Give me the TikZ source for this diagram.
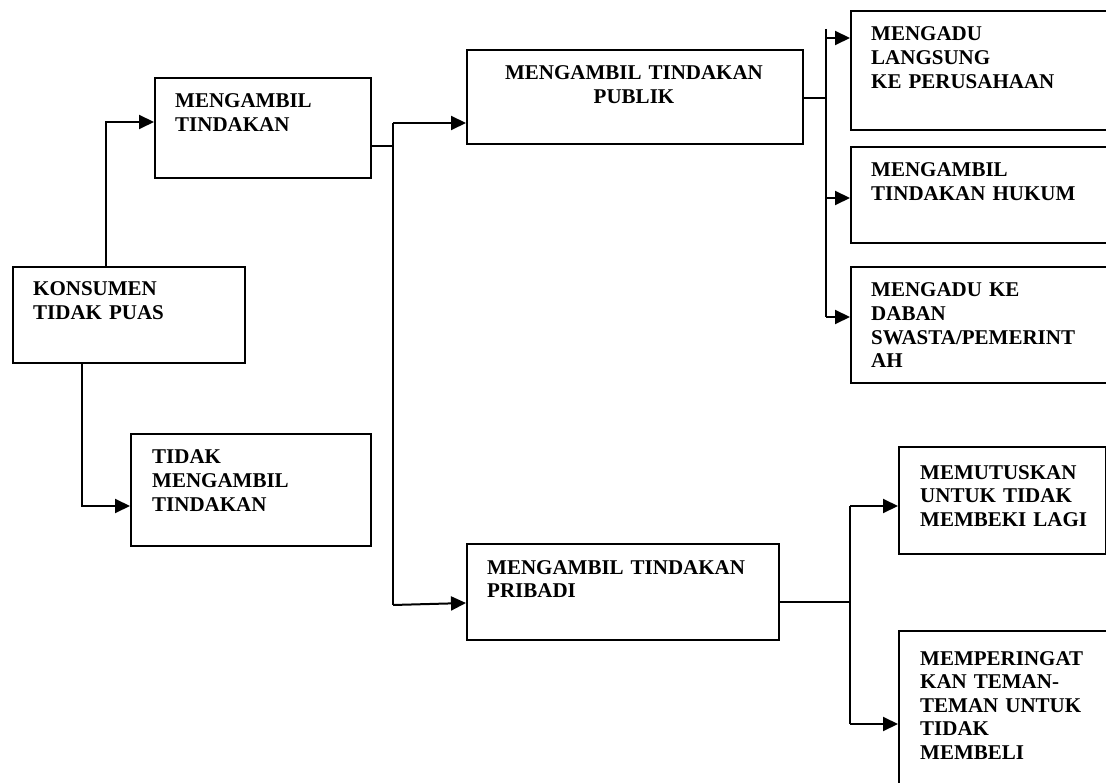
\documentclass[tikz,border=0pt]{standalone}
\usepackage{fontspec}
\setmainfont{Liberation Serif}
\usetikzlibrary{arrows.meta}
\tikzset{
  box/.style={draw, line width=2pt, rectangle, inner sep=0pt, anchor=north west},
  txt/.style={inner sep=0pt, text width=300pt, align=left, anchor=base west,
    font=\bfseries\fontsize{21}{23.6}\selectfont},
  ctxt/.style={inner sep=0pt, text width=336pt, align=center, anchor=base,
    font=\bfseries\fontsize{21}{23.6}\selectfont},
  line/.style={line width=2pt},
  arr/.style={line width=2pt, -{Triangle[length=15pt,width=14pt]}}
}
\begin{document}
\begin{tikzpicture}[x=1pt,y=-1pt]
\clip (0,0) rectangle (1106,783);
\fill[white] (0,0) rectangle (1106,783);
% boxes
\node[box, minimum width=232pt, minimum height=96pt] (k) at (12,266) {};
\node[box, minimum width=216pt, minimum height=100pt] (mt) at (154,77) {};
\node[box, minimum width=240pt, minimum height=112pt] (tt) at (130,433) {};
\node[box, minimum width=336pt, minimum height=94pt] (pub) at (466,49) {};
\node[box, minimum width=312pt, minimum height=96pt] (pri) at (466,543) {};
\node[box, minimum width=300pt, minimum height=119pt] (ml) at (850,10) {};
\node[box, minimum width=300pt, minimum height=96pt] (mh) at (850,146) {};
\node[box, minimum width=300pt, minimum height=116pt] (md) at (850,266) {};
\node[box, minimum width=207pt, minimum height=107pt] (mm) at (898,446) {};
\node[box, minimum width=250pt, minimum height=200pt] (mp) at (898,630) {};
% texts
\node[txt] (kt) at (33,296) {KONSUMEN\\TIDAK PUAS};
\node[txt] (mtt) at (175,108) {MENGAMBIL\\TINDAKAN};
\node[txt] (ttt) at (152,464) {TIDAK\\MENGAMBIL\\TINDAKAN};
\node[ctxt] (pubt) at (634,80) {MENGAMBIL TINDAKAN\\PUBLIK};
\node[txt] (prit) at (487,574) {MENGAMBIL TINDAKAN\\PRIBADI};
\node[txt] (mlt) at (871,41) {MENGADU\\LANGSUNG\\KE PERUSAHAAN};
\node[txt] (mht) at (871,177) {MENGAMBIL\\TINDAKAN HUKUM};
\node[txt] (mdt) at (871,297) {MENGADU KE\\DABAN\\SWASTA/PEMERINT\\AH};
\node[txt] (mmt) at (920,479) {MEMUTUSKAN\\UNTUK TIDAK\\MEMBEKI LAGI};
\node[txt] (mpt) at (920,665) {MEMPERINGAT\\KAN TEMAN-\\TEMAN UNTUK\\TIDAK\\MEMBELI};
% connectors
\coordinate (j1) at (106,122);
\draw[arr] (k.north -| j1) -- (j1) -- (j1 -| mt.west);
\coordinate (j2) at (82,506);
\draw[arr] (k.south -| j2) -- (j2) -- (j2 -| tt.west);
\coordinate (j3) at (393,146);
\coordinate (j3a) at (393,123);
\coordinate (j3b) at (393,605);
\draw[line] (mt.east |- j3) -- (j3);
\draw[line] (j3a) -- (j3b);
\draw[arr] (j3a) -- (j3a -| pub.west);
\draw[arr] (j3b) -- ([yshift=-11pt]pri.west);
\coordinate (j4) at (826,98);
\coordinate (j4a) at (826,29);
\coordinate (a1) at (826,38);
\coordinate (a2) at (826,198);
\coordinate (j4b) at (826,317);
\draw[line] (pub.east |- j4) -- (j4);
\draw[line] (j4a) -- (j4b);
\draw[arr] (a1) -- (a1 -| ml.west);
\draw[arr] (a2) -- (a2 -| mh.west);
\draw[arr] (j4b) -- (j4b -| md.west);
\coordinate (j5) at (850,602);
\coordinate (j5a) at (850,506);
\coordinate (j5b) at (850,724);
\draw[line] (pri.east |- j5) -- (j5);
\draw[line] (j5a) -- (j5b);
\draw[arr] (j5a) -- (j5a -| mm.west);
\draw[arr] (j5b) -- (j5b -| mp.west);
\end{tikzpicture}
\end{document}
